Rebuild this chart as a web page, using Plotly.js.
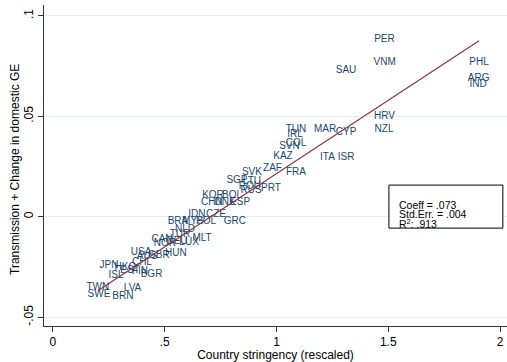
<!DOCTYPE html>
<html>
<head>
<meta charset="utf-8">
<script src="https://cdn.plot.ly/plotly-3.0.1.min.js"></script>
<style>html,body{margin:0;padding:0;background:#fff;}#chart{width:507px;height:362px;}</style>
</head>
<body>
<div id="chart"></div>
<script>
// Country codes and their (stringency, transmission+change) values
var countries = ["PER","VNM","SAU","PHL","ARG","IND","HRV","NZL","TUN","IRL","MAR","CYP","COL","SVN","KAZ","ITA","ISR","ZAF","FRA","SVK","SGP","LTU","ROU","RUS","PRT","KOR","BOL","CHN","DNK","ESP","IDN","CZE","BRA","MYS","POL","GRC","NLD","TUR","MLT","CAN","NOR","DEU","LUX","USA","AUS","GBR","HUN","JPN","HKG","CHL","EST","FIN","BGR","ISL","TWN","LVA","SWE","BRN"];
var stringency = [1.483,1.484,1.311,1.906,1.904,1.902,1.483,1.481,1.087,1.083,1.217,1.311,1.087,1.058,1.029,1.228,1.311,0.982,1.087,0.890,0.823,0.890,0.881,0.886,0.975,0.716,0.801,0.711,0.770,0.837,0.644,0.729,0.559,0.626,0.685,0.814,0.591,0.568,0.667,0.488,0.501,0.555,0.609,0.394,0.421,0.474,0.550,0.251,0.324,0.398,0.345,0.389,0.441,0.282,0.201,0.356,0.206,0.313];
var transmission = [0.0882,0.0770,0.0726,0.0770,0.0686,0.0658,0.0499,0.0434,0.0432,0.0409,0.0432,0.0417,0.0365,0.0349,0.0299,0.0295,0.0295,0.0240,0.0218,0.0220,0.0178,0.0173,0.0150,0.0133,0.0140,0.0106,0.0106,0.0073,0.0073,0.0073,0.0013,0.0013,-0.0026,-0.0026,-0.0026,-0.0026,-0.0064,-0.0086,-0.0106,-0.0111,-0.0131,-0.0121,-0.0126,-0.0176,-0.0196,-0.0191,-0.0181,-0.0243,-0.0255,-0.0226,-0.0270,-0.0275,-0.0290,-0.0295,-0.0353,-0.0355,-0.0387,-0.0395];

// Fitted regression
var fitSlope = 0.073;
var fitIntercept = -0.0515;
var statLines = ["Coeff = .073", "Std.Err. = .004", "R<sup>2</sup>: .913"];

var xTickVals = [0, 0.5, 1, 1.5, 2];
var xTickText = ["0", ".5", "1", "1.5", "2"];
var yTickVals = [-0.05, 0, 0.05, 0.1];
var yTickText = ["-.05", "0", ".05", ".1"];

var xmin = Math.min.apply(null, stringency);
var xmax = Math.max.apply(null, stringency);
var fitX = [xmin, xmax];
var fitY = fitX.map(function(x){ return fitIntercept + fitSlope * x; });

var FONT = "Liberation Sans, Arial, Helvetica, sans-serif";

var traces = [
  {
    x: stringency, y: transmission, text: countries,
    mode: "text", type: "scatter", textposition: "middle center",
    textfont: {family: FONT, size: 10, color: "#1a476f"},
    hoverinfo: "text", showlegend: false, cliponaxis: false
  },
  {
    x: fitX, y: fitY, mode: "lines", type: "scatter",
    line: {color: "#90353b", width: 1.2}, showlegend: false
  }
];

// plot area: top 5px, height 321px, left 44px, width 463px
var annPx = [205, 214, 223];
var annotations = statLines.map(function(t, i){
  return {xref: "paper", yref: "paper", x: 0.762, y: (326 - annPx[i]) / 321, xanchor: "left", yanchor: "middle",
          text: t, showarrow: false, font: {family: FONT, size: 10.5, color: "#000"}};
});
annotations.push({
  xref: "paper", yref: "paper", x: (15 - 44) / 463, y: (326 - 170) / 321,
  xanchor: "center", yanchor: "middle", textangle: -90, showarrow: false,
  text: "Transmission + Change in domestic GE", font: {family: FONT, size: 12, color: "#000"}
});

var layout = {
  width: 507, height: 362,
  margin: {l: 44, r: 0, t: 5, b: 36},
  paper_bgcolor: "#ffffff", plot_bgcolor: "#ffffff",
  font: {family: FONT, color: "#000"},
  showlegend: false,
  xaxis: {
    range: [-0.04, 2.031], tickvals: xTickVals, ticktext: xTickText,
    showgrid: false, zeroline: false, showline: true, linecolor: "#333", linewidth: 1,
    ticks: "outside", ticklen: 5, tickcolor: "#333", tickfont: {size: 12, color: "#000"},
    title: {text: "Country stringency (rescaled)", font: {size: 12, color: "#000"}, standoff: 2},
    automargin: false
  },
  yaxis: {
    range: [-0.0544, 0.1054], tickvals: yTickVals, ticktext: yTickText,
    showgrid: true, gridcolor: "#e6eef1", gridwidth: 1, zeroline: false,
    showline: true, linecolor: "#333", linewidth: 1,
    ticks: "outside", ticklen: 5, tickcolor: "#333", tickangle: -90,
    tickfont: {size: 12, color: "#000"},
    title: {text: ""},
    automargin: false
  },
  shapes: [{
    type: "rect", xref: "paper", yref: "paper",
    x0: 0.745, x1: 0.991, y0: 0.305, y1: 0.439,
    line: {color: "#000", width: 1}, fillcolor: "#ffffff", layer: "above"
  }],
  annotations: annotations
};

Plotly.newPlot("chart", traces, layout, {staticPlot: true, displayModeBar: false});
</script>
</body>
</html>
